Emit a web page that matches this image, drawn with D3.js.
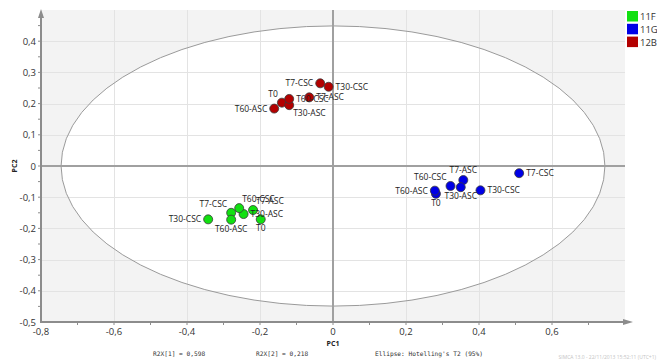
<!DOCTYPE html>
<html>
<head>
<meta charset="utf-8">
<script src="https://cdn.jsdelivr.net/npm/d3@7"></script>
<style>
  body { margin: 0; background: #fff; }
  svg { display: block; font-family: "Open Sans", "DejaVu Sans", sans-serif; }
</style>
</head>
<body>
<svg id="chart" width="657" height="360"></svg>
<script>
// groups and scores (PC1, PC2)
const groups = ['11F', '11G', '12B']
const colors = ['#11e011', '#0000e6', '#b30000']
const obsNames = ['T0', 'T7-ASC', 'T7-CSC', 'T30-ASC', 'T30-CSC', 'T60-ASC', 'T60-CSC']

const pc1_11F = [-0.198, -0.219, -0.279, -0.245, -0.342, -0.279, -0.257]
const pc2_11F = [-0.171, -0.141, -0.150, -0.154, -0.171, -0.172, -0.135]
const pc1_11G = [0.282, 0.357, 0.510, 0.350, 0.404, 0.279, 0.322]
const pc2_11G = [-0.089, -0.045, -0.023, -0.068, -0.078, -0.079, -0.064]
const pc1_12B = [-0.140, -0.065, -0.035, -0.120, -0.012, -0.161, -0.120]
const pc2_12B = [0.203, 0.220, 0.265, 0.195, 0.254, 0.184, 0.215]

const xTicks = [-0.8, -0.6, -0.4, -0.2, 0, 0.2, 0.4, 0.6]
const yTicks = [0.4, 0.3, 0.2, 0.1, 0, -0.1, -0.2, -0.3, -0.4, -0.5]
const ellipseRadii = [0.745, 0.449] // Hotelling's T2 95%
const r2x = [0.598, 0.218]

// label placement per observation (not data)
const labelSide = {
  '11F': ['b', 'tr', 'tl', 'r', 'l', 'b', 'tr'],
  '11G': ['b', 't', 'r', 'b', 'r', 'l', 'tl'],
  '12B': ['tl', 'r', 'l', 'br', 'r', 'l', 'r']
}

const svg = d3.select('#chart')
const pLeft = 41, pRight = 625, pTop = 10, pBottom = 322

const x = d3.scaleLinear().domain([-0.8, 0.8]).range([pLeft, pRight])
const y = d3.scaleLinear().domain([-0.5, 0.5]).range([pBottom, pTop])

const fmt = d => d === 0 ? '0' : d3.format('.1f')(d).replace('.', ',').replace('−', '-')

// plot background
svg.append('rect')
  .attr('x', pLeft).attr('y', pTop)
  .attr('width', pRight - pLeft).attr('height', pBottom - pTop)
  .attr('fill', '#f3f3f3')

// ellipse interior
svg.append('ellipse')
  .attr('cx', x(0)).attr('cy', y(0))
  .attr('rx', x(ellipseRadii[0]) - x(0))
  .attr('ry', y(0) - y(ellipseRadii[1]))
  .attr('fill', '#fff')

// grid
const grid = svg.append('g').attr('stroke', '#e3e3e3').attr('stroke-width', 1)
grid.selectAll('.gx').data(xTicks.filter(d => d !== 0 && d > -0.8)).join('line')
  .attr('x1', d => x(d) + 0.5).attr('x2', d => x(d) + 0.5)
  .attr('y1', pTop).attr('y2', pBottom)
grid.selectAll('.gy').data(yTicks.filter(d => d !== 0 && d > -0.5)).join('line')
  .attr('y1', d => Math.round(y(d)) + 0.5).attr('y2', d => Math.round(y(d)) + 0.5)
  .attr('x1', pLeft).attr('x2', pRight)

// ellipse outline
svg.append('ellipse')
  .attr('cx', x(0)).attr('cy', y(0))
  .attr('rx', x(ellipseRadii[0]) - x(0))
  .attr('ry', y(0) - y(ellipseRadii[1]))
  .attr('fill', 'none')
  .attr('stroke', '#9a9a9a').attr('stroke-width', 1)

// zero lines
svg.append('line')
  .attr('x1', x(0)).attr('x2', x(0)).attr('y1', pTop).attr('y2', pBottom)
  .attr('stroke', '#a0a0a0').attr('stroke-width', 2)
svg.append('line')
  .attr('x1', pLeft).attr('x2', pRight).attr('y1', y(0)).attr('y2', y(0))
  .attr('stroke', '#a0a0a0').attr('stroke-width', 2)

// axes
const axisColor = '#8c8c8c'
svg.append('line')
  .attr('x1', pLeft).attr('x2', pLeft).attr('y1', pBottom + 1).attr('y2', pTop + 4)
  .attr('stroke', axisColor).attr('stroke-width', 2)
svg.append('path')
  .attr('d', `M${pLeft - 3},${pTop + 8} L${pLeft},${pTop - 1} L${pLeft + 3},${pTop + 8} Z`)
  .attr('fill', axisColor)
svg.append('line')
  .attr('x1', pLeft - 1).attr('x2', pRight + 2).attr('y1', pBottom).attr('y2', pBottom)
  .attr('stroke', axisColor).attr('stroke-width', 2)
svg.append('path')
  .attr('d', `M${pRight - 2},${pBottom - 3} L${pRight + 8},${pBottom} L${pRight - 2},${pBottom + 3} Z`)
  .attr('fill', axisColor)

// minor ticks
const xMinor = d3.range(-0.7, 0.75, 0.1)
svg.append('g').selectAll('line').data(xMinor).join('line')
  .attr('x1', d => x(d)).attr('x2', d => x(d))
  .attr('y1', pBottom + 1).attr('y2', pBottom + 3)
  .attr('stroke', axisColor)
const yMinor = d3.range(-0.45, 0.5, 0.05)
svg.append('g').selectAll('line').data(yMinor).join('line')
  .attr('y1', d => y(d)).attr('y2', d => y(d))
  .attr('x1', pLeft - 3).attr('x2', pLeft - 1)
  .attr('stroke', axisColor)

// tick labels
svg.append('g').selectAll('text').data(xTicks).join('text')
  .attr('x', d => x(d)).attr('y', pBottom + 13)
  .attr('text-anchor', 'middle')
  .attr('font-size', 9.5).attr('fill', '#333')
  .text(fmt)
svg.append('g').selectAll('text').data(yTicks).join('text')
  .attr('x', pLeft - 5).attr('y', d => y(d) + 3.5)
  .attr('text-anchor', 'end')
  .attr('font-size', 9.5).attr('fill', '#333')
  .text(fmt)

// axis titles
svg.append('text')
  .attr('x', x(0)).attr('y', 346)
  .attr('text-anchor', 'middle')
  .attr('font-size', 7).attr('font-weight', 'bold').attr('fill', '#222')
  .text('PC1')
svg.append('text')
  .attr('transform', `translate(17,${y(0)}) rotate(-90)`)
  .attr('text-anchor', 'middle')
  .attr('font-size', 7).attr('font-weight', 'bold').attr('fill', '#222')
  .text('PC2')

// footer notes
const mono = svg.append('g')
  .attr('font-family', '"DejaVu Sans Mono", "Liberation Mono", monospace')
  .attr('font-size', 6.2).attr('fill', '#333')
mono.append('text').attr('x', 153).attr('y', 356).text('R2X[1] = ' + String(r2x[0]).replace('.', ','))
mono.append('text').attr('x', 256).attr('y', 356).text('R2X[2] = ' + String(r2x[1]).replace('.', ','))
mono.append('text').attr('x', 375).attr('y', 356).text("Ellipse: Hotelling's T2 (95%)")
svg.append('text')
  .attr('x', 656).attr('y', 359).attr('text-anchor', 'end')
  .attr('font-size', 5).attr('fill', '#c4c4c4')
  .text('SIMCA 13.0 - 22/11/2013 15:52:11 (UTC+1)')

// points
const series = [
  { g: groups[0], pc1: pc1_11F, pc2: pc2_11F },
  { g: groups[1], pc1: pc1_11G, pc2: pc2_11G },
  { g: groups[2], pc1: pc1_12B, pc2: pc2_12B }
]
const offsets = {
  l: [-7, 3, 'end'], r: [7, 3, 'start'], t: [0, -7, 'middle'], b: [0, 12, 'middle'],
  tl: [-4, -6, 'end'], tr: [3, -6, 'start'], br: [4, 11, 'start']
}

series.forEach((s, gi) => {
  const pts = obsNames.map((n, i) => ({ name: n, x: s.pc1[i], y: s.pc2[i], side: labelSide[s.g][i] }))
  const g = svg.append('g')
  g.selectAll('circle').data(pts).join('circle')
    .attr('cx', d => x(d.x)).attr('cy', d => y(d.y)).attr('r', 4.5)
    .attr('fill', colors[gi]).attr('stroke', '#3a3a3a').attr('stroke-width', 0.8)
  g.selectAll('text').data(pts).join('text')
    .attr('x', d => x(d.x) + offsets[d.side][0])
    .attr('y', d => y(d.y) + offsets[d.side][1])
    .attr('text-anchor', d => offsets[d.side][2])
    .attr('font-size', 8.5).attr('fill', '#222')
    .text(d => d.name)
})

// legend
const legend = svg.append('g')
groups.forEach((gname, i) => {
  legend.append('rect')
    .attr('x', 627).attr('y', 11 + i * 12.8).attr('width', 11).attr('height', 10.5)
    .attr('fill', colors[i])
  legend.append('text')
    .attr('x', 640).attr('y', 20 + i * 12.8)
    .attr('font-size', 9.5).attr('fill', '#333')
    .text(gname)
})
</script>
</body>
</html>
